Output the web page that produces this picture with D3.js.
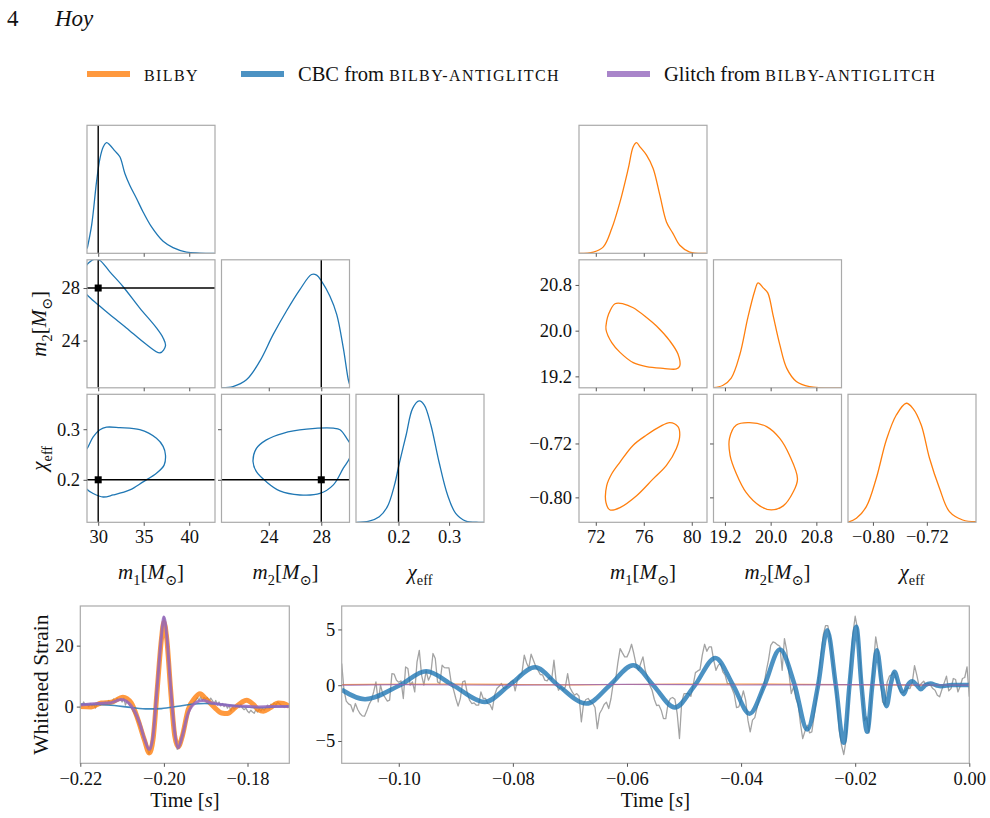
<!DOCTYPE html>
<html><head><meta charset="utf-8">
<script src="https://cdn.jsdelivr.net/npm/d3@7"></script>
<style>body{margin:0;background:#fff}</style>
</head><body><svg id="c" width="990" height="818"></svg>
<script>
// ---------------- DATA ----------------
const legendLabels = ["BILBY", "CBC from ", "Glitch from "];
const truthValues = [30, 28, 0.2];

// Left corner (CBC from bilby-antiglitch)
const leftM1Domain = [28.77, 42.83];
const leftM2Domain = [20.4, 30.15];
const leftChiDomain = [0.116, 0.369];
const leftM1Ticks = [30, 35, 40];
const leftM2Ticks = [24, 28];
const leftChiTicks = [0.2, 0.3];

const cbcM1Kde = [[28.79,0.037],[29.28,0.22],[29.82,0.56],[30.19,0.74],[30.55,0.83],[30.92,0.864],[31.28,0.846],[31.83,0.80],[32.38,0.754],[32.93,0.624],[33.48,0.53],[34.21,0.428],[34.93,0.323],[35.86,0.206],[37.13,0.094],[38.22,0.045],[39.69,0.01],[41.15,0.002],[42.8,0.0]];
const cbcM2Kde = [[20.38,0.002],[21.27,0.01],[22.3,0.063],[23.31,0.206],[24.33,0.415],[25.35,0.6],[26.37,0.767],[27.26,0.885],[27.65,0.88],[28.03,0.832],[28.66,0.715],[29.18,0.572],[29.68,0.31],[30.06,0.063],[30.19,0.018]];
const cbcChiKde = [[0.117,0],[0.142,0.01],[0.162,0.044],[0.178,0.122],[0.192,0.29],[0.201,0.45],[0.215,0.68],[0.228,0.89],[0.241,0.948],[0.251,0.916],[0.264,0.76],[0.280,0.473],[0.297,0.213],[0.313,0.07],[0.333,0.01],[0.359,0],[0.369,0]];
const cbcM1M2 = [[37.39,23.6],[36.8,23.07],[35.3,23.7],[33.1,24.96],[31.3,25.96],[30.0,26.72],[28.79,27.47],[28.3,28.0],[28.2,28.8],[28.5,29.5],[29.0,29.95],[29.6,30.2],[30.2,30.1],[31.28,29.23],[32.74,28.1],[34.57,26.47],[36.4,24.96],[37.13,24.2]];
const cbcM1Chi = [[28.79,0.262],[29.45,0.285],[30.19,0.299],[30.92,0.304],[32.38,0.303],[34.57,0.299],[36.4,0.282],[37.13,0.266],[37.39,0.249],[37.24,0.229],[36.4,0.213],[34.93,0.196],[33.48,0.180],[31.64,0.170],[30.55,0.166],[29.45,0.173],[28.79,0.181],[28.3,0.2],[28.2,0.23],[28.4,0.255]];
const cbcM2Chi = [[22.8,0.236],[23.06,0.262],[23.82,0.279],[25.09,0.292],[26.88,0.300],[28.92,0.302],[29.43,0.299],[29.94,0.282],[30.3,0.265],[30.2,0.245],[29.68,0.223],[28.92,0.190],[27.9,0.173],[26.37,0.170],[24.84,0.178],[23.82,0.196],[23.06,0.216]];

// Right corner (bilby)
const rightM1Domain = [70.6, 81.27];
const rightM2Domain = [19.0, 21.24];
const rightChiDomain = [-0.837, -0.647];
const rightM1Ticks = [72, 76, 80];
const rightM2Ticks = [19.2, 20.0, 20.8];
const rightChiTicks = [-0.80, -0.72];

const bilbyM1Kde = [[70.6,0.0],[71.8,0.01],[72.63,0.05],[73.33,0.193],[74.02,0.402],[74.71,0.663],[75.12,0.832],[75.4,0.864],[75.68,0.832],[76.23,0.767],[76.78,0.663],[77.34,0.454],[77.89,0.245],[78.44,0.154],[79.0,0.063],[79.83,0.01],[81.2,0.0]];
const bilbyM2Kde = [[19.0,0.002],[19.16,0.018],[19.31,0.076],[19.46,0.258],[19.6,0.546],[19.72,0.754],[19.78,0.82],[19.87,0.781],[19.95,0.742],[20.04,0.572],[20.16,0.337],[20.28,0.154],[20.45,0.05],[20.68,0.01],[21.2,0.0],[21.24,0.0]];
const bilbyChiKde = [[-0.837,0],[-0.8246,0.031],[-0.8098,0.122],[-0.795,0.344],[-0.7801,0.643],[-0.7653,0.838],[-0.7505,0.93],[-0.7407,0.89],[-0.7283,0.76],[-0.716,0.5],[-0.7012,0.266],[-0.6864,0.083],[-0.6667,0.018],[-0.6468,0.005]];
const bilbyM1M2 = [[72.91,20.17],[73.05,20.28],[73.6,20.47],[74.29,20.47],[75.12,20.4],[76.23,20.23],[77.06,20.08],[78.17,19.82],[78.85,19.59],[79.0,19.38],[78.72,19.33],[77.61,19.34],[76.23,19.37],[75.12,19.44],[74.02,19.62],[73.33,19.79],[72.85,20.02]];
const bilbyM1Chi = [[72.85,-0.8077],[72.91,-0.7826],[73.33,-0.765],[74.02,-0.7476],[75.12,-0.7226],[76.23,-0.7075],[77.34,-0.695],[78.17,-0.689],[78.85,-0.695],[79.0,-0.7075],[78.72,-0.7275],[77.89,-0.7526],[76.78,-0.7726],[75.4,-0.7976],[74.02,-0.8152],[73.19,-0.8187]];
const bilbyM2Chi = [[19.28,-0.7125],[19.4,-0.6925],[19.63,-0.689],[19.93,-0.695],[20.16,-0.7125],[20.33,-0.7376],[20.47,-0.7726],[20.39,-0.7927],[20.22,-0.8126],[20.01,-0.8187],[19.81,-0.8126],[19.57,-0.7927],[19.4,-0.765],[19.29,-0.7376]];

// Bottom-left strain panel (glitch)
const glitchTimeDomain = [-0.22, -0.17];
const glitchStrainDomain = [-18.6, 33];
const glitchTimeTicks = [-0.22, -0.20, -0.18];
const glitchStrainTicks = [0, 20];
const glitchDataStart = -0.22, glitchDataStep = 0.0004;
const glitchData = [1.0,0.3,1.5,0.5,0.8,0.0,1.0,0.2,0.9,-0.5,0.8,1.3,0.6,1.2,0.9,1.5,1.0,2.0,1.0,1.8,2.5,1.5,2.8,2.0,2.5,1.5,2.8,0.5,2.0,0.8,0.0,-1.0,-2.0,-3.2,-4.5,-6.0,-7.5,-9.0,-10.5,-12.0,-13.5,-15.5,-14.5,-12.0,-6.0,1.5,7.0,13.0,19.0,25.0,29.5,27.0,21.0,14.0,7.0,0.0,-6.0,-11.0,-14.0,-13.5,-11.0,-8.5,-6.5,-4.5,-3.0,-1.5,-0.5,0.5,1.5,2.0,3.0,2.0,3.2,2.0,3.0,2.5,3.0,1.8,2.8,2.0,1.0,2.0,0.5,1.5,0.2,1.0,0.0,0.8,-0.5,0.5,-1.5,0.0,-0.8,-0.2,0.5,-0.3,0.8,-0.5,-1.0,-0.5,-1.5,-2.0,-1.2,-1.8,-2.2,-1.0,-1.8,-0.8,-1.5,-0.5,-1.2,-0.3,0.5,-0.5,0.8,0.3,1.2,0.5,1.5,1.0,0.5,0.2,-0.3,0.0,0.3,-0.2];
const glitchBilby = [[-0.22,0],[-0.2174,-0.1],[-0.2150,1.2],[-0.2126,1.4],[-0.2098,3.1],[-0.2078,1.2],[-0.2062,-4.3],[-0.2047,-10.8],[-0.2035,-15.2],[-0.2026,-10.8],[-0.2016,5.6],[-0.2006,22],[-0.2,27.7],[-0.1993,22],[-0.1984,5.6],[-0.1974,-9.7],[-0.1966,-13.2],[-0.1956,-9.7],[-0.1942,-1.0],[-0.1926,2.8],[-0.1914,4.2],[-0.1898,2.3],[-0.1878,-0.4],[-0.1862,-2.1],[-0.1848,-2.3],[-0.1830,-0.4],[-0.1814,1.4],[-0.1802,2.1],[-0.1786,0.7],[-0.1774,-1.0],[-0.1762,-1.5],[-0.1746,-0.4],[-0.1726,1.2],[-0.1714,1.0],[-0.17,0.1]];
const glitchCbc = [[-0.22,0.8],[-0.2158,0.67],[-0.2118,0.34],[-0.2078,-0.3],[-0.2038,-0.75],[-0.2006,-0.65],[-0.1966,0.1],[-0.1934,0.78],[-0.1902,1.0],[-0.1862,0.78],[-0.1822,0.1],[-0.1782,-0.3],[-0.1742,-0.2],[-0.17,0.1]];
const glitchGlitch = [[-0.22,0.5],[-0.2158,1.0],[-0.2126,1.3],[-0.2102,2.3],[-0.2078,0.2],[-0.2058,-5.4],[-0.2046,-10.8],[-0.2035,-14.1],[-0.2026,-9.7],[-0.2016,6.7],[-0.2006,23],[-0.2,29.4],[-0.1993,23],[-0.1984,6.7],[-0.1974,-8.6],[-0.1966,-13.5],[-0.1956,-9.7],[-0.1942,-2.1],[-0.1922,1.5],[-0.1906,2.0],[-0.1886,1.2],[-0.1862,0.7],[-0.1838,0.3],[-0.1806,0.1],[-0.1774,-0.1],[-0.1742,0],[-0.17,0]];

// Bottom-right strain panel (chirp)
const chirpTimeDomain = [-0.11, 0];
const chirpStrainDomain = [-7, 7.1];
const chirpTimeTicks = [-0.10, -0.08, -0.06, -0.04, -0.02, 0.00];
const chirpStrainTicks = [-5, 0, 5];
const chirpDataStart = -0.11, chirpDataStep = 0.0004;
const chirpData = [1.94,-0.45,-1.43,-1.67,-1.79,-2.39,-1.64,-2.18,-2.54,-2.75,-2.78,-2.3,-1.73,-1.34,-0.6,0.3,-1.49,0,-0.8,-1.1,-1.43,-1.34,1.04,0.99,0.45,0.27,0.39,-1.19,1.64,1.49,0,0.3,-0.6,2.09,3.13,0.9,0,1.28,0.45,0.9,2.84,2.39,0.3,0.15,1.79,1.58,1.55,1.55,0.21,-0.39,-1.19,-1.88,-1.19,0.3,0.39,-0.69,-1.34,-1.64,-1.58,-1.79,-1.79,-0.6,-1.19,-1.19,-1.64,-1.73,-2.2,-0.9,-0.3,-0.09,0.15,-0.3,-0.21,0.06,0.3,0.45,-0.51,0.51,0.9,1.1,2.69,2.0,1.55,2.78,2.24,1.7,1.34,0.96,0.93,0.45,0.39,0.69,0.51,2.24,0.3,-0.45,-0.15,-0.45,-0.15,1.04,-0.21,-0.6,-0.9,-0.75,-0.99,-3.28,-1.64,-1.28,-1.19,-1.49,-1.64,-2.0,-3.9,-2.54,-2.18,-1.73,-1.52,-2.09,-1.19,0.21,0.45,2.0,3.28,2.9,2.54,2.54,2.99,3.67,2.84,1.85,1.34,1.94,2.54,1.34,0.69,0,-0.45,-1.28,-1.82,-1.79,-2.24,-2.99,-2.99,-1.64,-1.19,-1.1,-1.25,-2.54,-4.78,-1.49,-0.75,-0.75,-0.75,-0.99,0,1.13,1.28,1.4,2.69,3.67,3.04,3.43,3.43,2.24,1.34,1.79,1.94,1.19,0.9,0.15,0.15,-0.3,-0.81,-2.0,-1.94,-1.34,-0.51,-1.34,-3.13,-4.18,-3.13,-2.9,-2.0,-1.2,-0.69,0,1.25,2.24,3.58,3.88,3.79,3.61,3.49,1.34,4.18,3.13,1.04,-0.75,-0.15,-1.19,-1.7,-3.43,-4.78,-4.12,-3.58,-4.27,-4.18,-2.78,-1.28,0.75,2.69,4.48,5.34,5.34,4.33,2.39,0.75,-1.34,-4.03,-5.37,-6.21,-4.93,-1.94,1.94,4.63,6.18,5.07,2.69,-0.3,-3.19,-2.84,-4.27,-1.19,1.94,4.33,3.13,0.75,-1.49,-1.79,0.27,0.81,0.93,1.16,0.6,-0.15,-0.63,-0.66,-0.45,-0.24,-0.3,0.21,1.76,0.9,-0.09,0.15,0.36,0.06,0.15,0,-0.3,-0.45,-0.9,-1.04,-0.39,0.21,0.81,-0.51,-0.3,0.6,0.51,-0.6,-0.09,0.6,0.69,1.64,-1.04];
const chirpCbc = [[-0.11,-0.4],[-0.1059,-1.25],[-0.0998,0],[-0.0952,1.25],[-0.0905,0],[-0.0849,-1.5],[-0.0806,0],[-0.0761,1.6],[-0.0721,0],[-0.0671,-1.65],[-0.0630,0],[-0.0589,1.8],[-0.0554,0],[-0.0516,-2.0],[-0.0481,0],[-0.0445,2.45],[-0.0414,0],[-0.0385,-2.55],[-0.0359,0],[-0.0332,3.2],[-0.0306,0],[-0.0284,-3.97],[-0.0265,0],[-0.0249,4.93],[-0.0234,0],[-0.0220,-5.16],[-0.0210,0],[-0.0198,5.23],[-0.0189,0],[-0.0179,-4.18],[-0.0170,0],[-0.0162,3.14],[-0.0153,0],[-0.0145,-1.88],[-0.0138,0],[-0.0131,1.2],[-0.0123,0],[-0.0115,-0.8],[-0.0108,0],[-0.0100,0.36],[-0.0092,0],[-0.0085,-0.36],[-0.0077,0],[-0.0068,0.15],[-0.0058,0],[-0.005,-0.1],[-0.003,0.02],[0,0.02]];
const chirpBilby = [[-0.11,0.05],[-0.09,0.1],[-0.07,0.03],[-0.05,0.1],[-0.03,0.08],[-0.01,0.0],[0,0.0]];
const chirpGlitch = [[-0.11,0.0],[-0.1,0.05],[-0.08,0.0],[-0.06,0.08],[-0.04,0.02],[-0.02,0.05],[0,0.0]];

// ---------------- DRAWING ----------------
const svg = d3.select("#c");
const FONT = "'Liberation Serif','DejaVu Serif',serif";
const SPINE = "#aaaaaa", TICK = "#555";
const ORANGE = "#ff7f0e", BLUE = "#1f77b4", PURPLE = "#9467bd";
svg.attr("font-family", FONT);

function styleAxis(g){
  g.attr("font-family", FONT).attr("font-size", 18.5);
  g.select(".domain").remove();
  g.selectAll(".tick line").attr("stroke", TICK).attr("stroke-width", 1);
  g.selectAll(".tick text").attr("fill", "#111");
}
function addMath(t, parts, fs){
  let shift = 0;
  parts.forEach(p => {
    const ts = t.append("tspan").text(p.t);
    const target = p.sub ? fs*0.3 : 0;
    if (target !== shift){ ts.attr("dy", target - shift); shift = target; }
    if (p.sub) ts.attr("font-size", fs*0.68);
    if (p.it) ts.attr("font-style", "italic");
  });
}
const M1L = [{t:"m",it:1},{t:"1",sub:1},{t:"["},{t:"M",it:1},{t:"⊙",sub:1},{t:"]"}];
const M2L = [{t:"m",it:1},{t:"2",sub:1},{t:"["},{t:"M",it:1},{t:"⊙",sub:1},{t:"]"}];
const CHIL = [{t:"χ",it:1},{t:"eff",sub:1}];
const TIMEL = [{t:"Time ["},{t:"s",it:1},{t:"]"}];

// header
svg.append("text").attr("x",7).attr("y",26).attr("font-size",23).attr("fill","#111").text("4");
svg.append("text").attr("x",55).attr("y",26).attr("font-size",23).attr("font-style","italic").attr("fill","#111").text("Hoy");

// legend
const legItems = [
  {x:87, c:ORANGE, main:"", sc:legendLabels[0]},
  {x:241, c:BLUE, main:legendLabels[1], sc:"BILBY-ANTIGLITCH"},
  {x:607, c:PURPLE, main:legendLabels[2], sc:"BILBY-ANTIGLITCH"}
];
legItems.forEach(it => {
  svg.append("line").attr("x1",it.x).attr("x2",it.x+43).attr("y1",74).attr("y2",74)
    .attr("stroke",it.c).attr("stroke-opacity",0.8).attr("stroke-width",6);
  const t = svg.append("text").attr("x",it.x+57).attr("y",81).attr("font-size",20.5).attr("fill","#111");
  if (it.main) t.append("tspan").text(it.main);
  t.append("tspan").attr("font-size",16).attr("letter-spacing",1.4).text(it.sc);
});

let clipN = 0;
function clipRect(x, y, w, h){
  const id = "cp" + (clipN++);
  svg.append("clipPath").attr("id", id).append("rect").attr("x",x).attr("y",y).attr("width",w).attr("height",h);
  return `url(#${id})`;
}

const SIZE = 128, STEP = 134.5;
function drawCorner(ox, oy, defs, marg, cont, color, truths){
  for (let i = 0; i < 3; i++) for (let j = 0; j <= i; j++){
    const x0 = ox + j*STEP, y0 = oy + i*STEP;
    const x = d3.scaleLinear().domain(defs[j].domain).range([x0, x0+SIZE]);
    const y = i === j ? d3.scaleLinear().domain([0,1]).range([y0+SIZE, y0])
                      : d3.scaleLinear().domain(defs[i].domain).range([y0+SIZE, y0]);
    const plot = svg.append("g").attr("clip-path", clipRect(x0, y0, SIZE, SIZE));
    if (i === j){
      plot.append("path").datum(marg[i]).attr("fill","none").attr("stroke",color).attr("stroke-width",1.3)
        .attr("d", d3.line().x(d=>x(d[0])).y(d=>y(d[1])).curve(d3.curveCatmullRom.alpha(0.5)));
    } else {
      plot.append("path").datum(cont[i+","+j]).attr("fill","none").attr("stroke",color).attr("stroke-width",1.3)
        .attr("d", d3.line().x(d=>x(d[0])).y(d=>y(d[1])).curve(d3.curveCatmullRomClosed.alpha(0.5)));
    }
    if (truths){
      plot.append("line").attr("x1",x(truths[j])).attr("x2",x(truths[j])).attr("y1",y0).attr("y2",y0+SIZE)
        .attr("stroke","#000").attr("stroke-width",1.4);
      if (i !== j){
        plot.append("line").attr("x1",x0).attr("x2",x0+SIZE).attr("y1",y(truths[i])).attr("y2",y(truths[i]))
          .attr("stroke","#000").attr("stroke-width",1.4);
        plot.append("rect").attr("x",x(truths[j])-3.5).attr("y",y(truths[i])-3.5).attr("width",7).attr("height",7).attr("fill","#000");
      }
    }
    svg.append("rect").attr("x",x0).attr("y",y0).attr("width",SIZE).attr("height",SIZE)
      .attr("fill","none").attr("stroke",SPINE).attr("stroke-width",1.2);
    svg.append("g").attr("transform",`translate(0,${y0+SIZE})`)
      .call(d3.axisBottom(x).tickValues(defs[j].ticks).tickSize(3.5).tickPadding(4.5)
        .tickFormat(i === 2 ? defs[j].fmt : () => ""))
      .call(styleAxis);
    if (i !== j){
      svg.append("g").attr("transform",`translate(${x0},0)`)
        .call(d3.axisLeft(y).tickValues(defs[i].ticks).tickSize(3.5).tickPadding(3.5)
          .tickFormat(j === 0 ? defs[i].fmt : () => ""))
        .call(styleAxis);
    }
  }
  [M1L, M2L, CHIL].forEach((lab, j) => {
    const t = svg.append("text").attr("x", ox + j*STEP + SIZE/2).attr("y", 579)
      .attr("text-anchor","middle").attr("font-size",21).attr("fill","#111");
    addMath(t, lab, 21);
  });
}

const fmtD = d3.format("d"), fmt1 = d3.format(".1f"), fmt2 = d3.format(".2f");
drawCorner(87, 125.3,
  [{domain:leftM1Domain, ticks:leftM1Ticks, fmt:fmtD},
   {domain:leftM2Domain, ticks:leftM2Ticks, fmt:fmtD},
   {domain:leftChiDomain, ticks:leftChiTicks, fmt:fmt1}],
  [cbcM1Kde, cbcM2Kde, cbcChiKde],
  {"1,0":cbcM1M2, "2,0":cbcM1Chi, "2,1":cbcM2Chi}, BLUE, truthValues);
drawCorner(579, 125.3,
  [{domain:rightM1Domain, ticks:rightM1Ticks, fmt:fmtD},
   {domain:rightM2Domain, ticks:rightM2Ticks, fmt:fmt1},
   {domain:rightChiDomain, ticks:rightChiTicks, fmt:fmt2}],
  [bilbyM1Kde, bilbyM2Kde, bilbyChiKde],
  {"1,0":bilbyM1M2, "2,0":bilbyM1Chi, "2,1":bilbyM2Chi}, ORANGE, null);

// corner y labels (left)
[[M2L, 125.3 + STEP + SIZE/2], [CHIL, 125.3 + 2*STEP + SIZE/2]].forEach(([lab, cy]) => {
  const t = svg.append("text").attr("transform",`translate(46,${cy}) rotate(-90)`)
    .attr("text-anchor","middle").attr("font-size",21).attr("fill","#111");
  addMath(t, lab, 21);
});

// strain panels
function drawWave(x0, x1, y0, y1, xDom, yDom, xTicks, yTicks, series){
  const x = d3.scaleLinear().domain(xDom).range([x0, x1]);
  const y = d3.scaleLinear().domain(yDom).range([y1, y0]);
  const plot = svg.append("g").attr("clip-path", clipRect(x0, y0, x1-x0, y1-y0));
  series.forEach(s => {
    plot.append("path").datum(s.data).attr("fill","none").attr("stroke",s.color)
      .attr("stroke-opacity", s.op).attr("stroke-width", s.w).attr("stroke-linejoin","round")
      .attr("d", d3.line().x(d=>x(d[0])).y(d=>y(d[1])).curve(s.curve));
  });
  svg.append("rect").attr("x",x0).attr("y",y0).attr("width",x1-x0).attr("height",y1-y0)
    .attr("fill","none").attr("stroke",SPINE).attr("stroke-width",1.2);
  svg.append("g").attr("transform",`translate(0,${y1})`)
    .call(d3.axisBottom(x).tickValues(xTicks).tickSize(3.5).tickPadding(5).tickFormat(fmt2)).call(styleAxis);
  svg.append("g").attr("transform",`translate(${x0},0)`)
    .call(d3.axisLeft(y).tickValues(yTicks).tickSize(3.5).tickPadding(3).tickFormat(fmtD)).call(styleAxis);
  const t = svg.append("text").attr("x",(x0+x1)/2).attr("y",807).attr("text-anchor","middle")
    .attr("font-size",20.5).attr("fill","#111");
  addMath(t, TIMEL, 20.5);
}
const toSeries = (arr, start, step) => arr.map((v, i) => [start + i*step, v]);

drawWave(80.3, 289.3, 606, 763.3, glitchTimeDomain, glitchStrainDomain, glitchTimeTicks, glitchStrainTicks, [
  {data: toSeries(glitchData, glitchDataStart, glitchDataStep), color:"#a3a3a3", op:1, w:1.3, curve:d3.curveLinear},
  {data: glitchBilby, color:ORANGE, op:0.8, w:5, curve:d3.curveMonotoneX},
  {data: glitchCbc, color:BLUE, op:0.85, w:1.6, curve:d3.curveMonotoneX},
  {data: glitchGlitch, color:PURPLE, op:0.85, w:3, curve:d3.curveMonotoneX}
]);
drawWave(341.7, 969.3, 606, 763.3, chirpTimeDomain, chirpStrainDomain, chirpTimeTicks, chirpStrainTicks, [
  {data: toSeries(chirpData, chirpDataStart, chirpDataStep), color:"#a3a3a3", op:1, w:1.3, curve:d3.curveLinear},
  {data: chirpBilby, color:ORANGE, op:0.8, w:1.2, curve:d3.curveMonotoneX},
  {data: chirpCbc, color:BLUE, op:0.8, w:4.5, curve:d3.curveMonotoneX},
  {data: chirpGlitch, color:PURPLE, op:0.8, w:1.2, curve:d3.curveMonotoneX}
]);

svg.append("text").attr("transform",`translate(48,${(606+763.3)/2}) rotate(-90)`)
  .attr("text-anchor","middle").attr("font-size",21.5).attr("fill","#111").text("Whitened Strain");
</script></body></html>
